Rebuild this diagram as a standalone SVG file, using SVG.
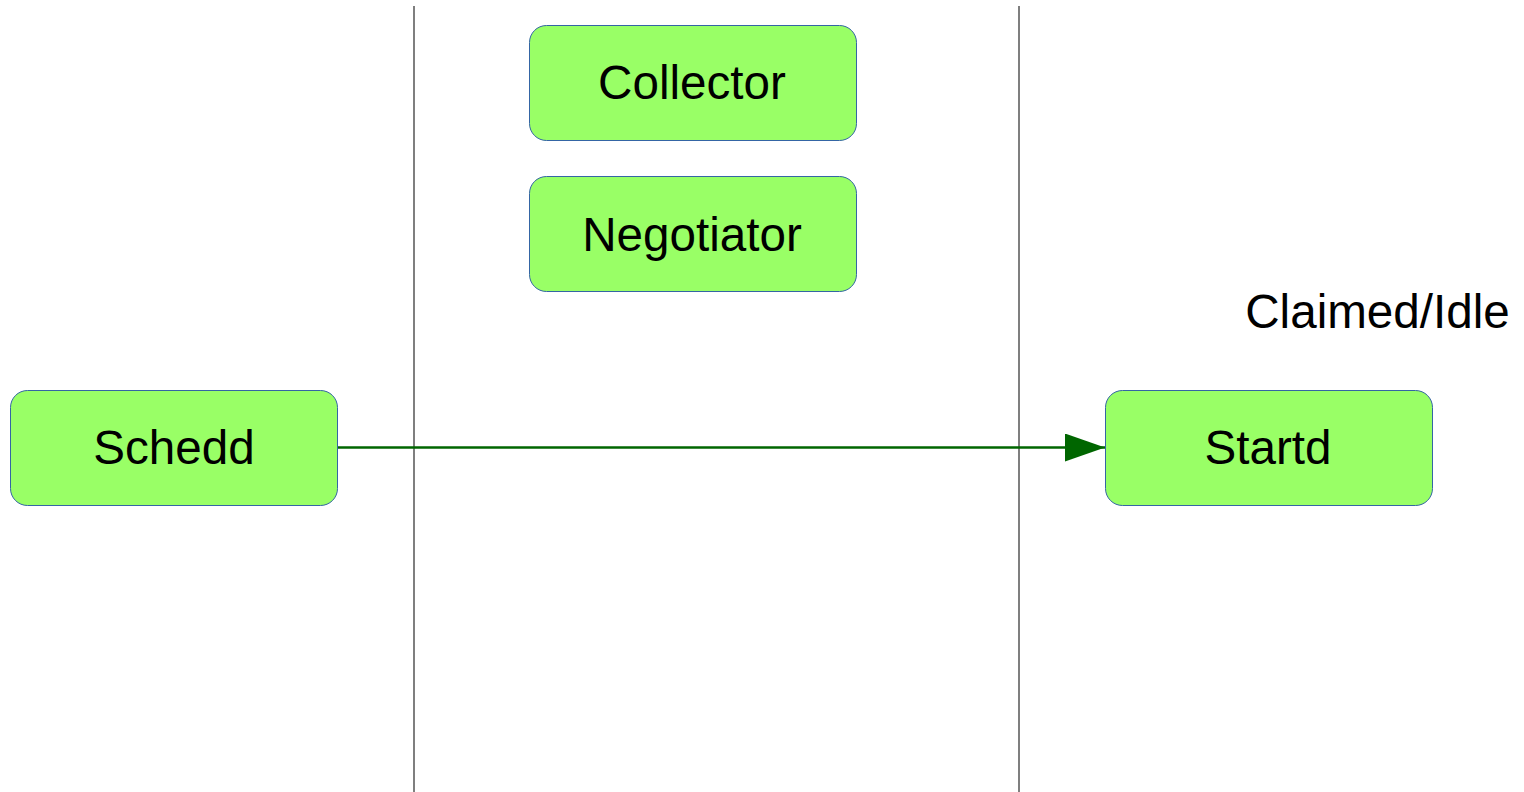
<svg xmlns="http://www.w3.org/2000/svg" width="1524" height="792" viewBox="0 0 1524 792">
  <defs>
    <style>
      .node rect { fill: #99ff66; stroke: #3465a4; stroke-width: 1; }
      .label { font-family: "Liberation Sans", Arial, sans-serif; font-size: 47.6px; fill: #000; text-anchor: middle; }
      .lane { stroke: #555555; stroke-width: 1.5; }
      .flow { stroke: #006600; stroke-width: 2.5; fill: none; }
    </style>
    <marker id="arrow" markerUnits="userSpaceOnUse" markerWidth="40" markerHeight="28" refX="40" refY="14" orient="auto">
      <path d="M0,0 L40,14 L0,28 Z" fill="#006600"/>
    </marker>
  </defs>
  <rect width="1524" height="792" fill="#ffffff"/>

  <!-- lane separators -->
  <g id="lanes">
    <line class="lane" x1="414" y1="6" x2="414" y2="792"/>
    <line class="lane" x1="1019" y1="6" x2="1019" y2="792"/>
  </g>

  <g id="node-collector" class="node">
    <rect x="529.5" y="25.5" width="327" height="115" rx="17" ry="17"/>
    <text class="label" x="692" y="99">Collector</text>
  </g>

  <g id="node-negotiator" class="node">
    <rect x="529.5" y="176.5" width="327" height="115" rx="17" ry="17"/>
    <text class="label" x="692" y="251">Negotiator</text>
  </g>

  <g id="node-schedd" class="node">
    <rect x="10.5" y="390.5" width="327" height="115" rx="17" ry="17"/>
    <text class="label" x="174" y="464">Schedd</text>
  </g>

  <g id="node-startd" class="node">
    <rect x="1105.5" y="390.5" width="327" height="115" rx="17" ry="17"/>
    <text class="label" x="1268" y="464">Startd</text>
  </g>

  <g id="state-label">
    <text class="label" x="1377.5" y="328">Claimed/Idle</text>
  </g>

  <g id="connectors">
    <line class="flow" x1="338" y1="447.5" x2="1105" y2="447.5" marker-end="url(#arrow)"/>
  </g>
</svg>
